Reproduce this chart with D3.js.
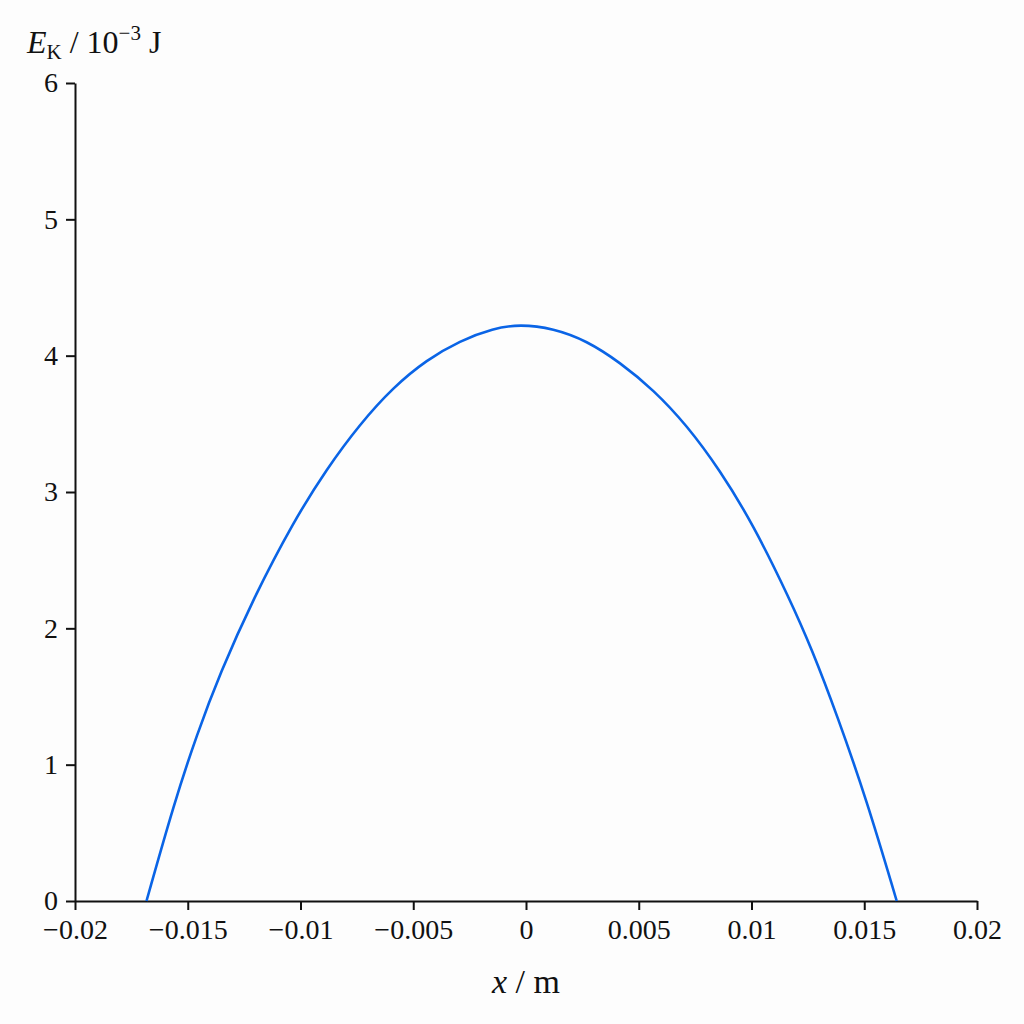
<!DOCTYPE html>
<html>
<head>
<meta charset="utf-8">
<script src="https://cdn.jsdelivr.net/npm/d3@7"></script>
<style>
  body { margin: 0; background: #fdfdfd; }
  svg { display: block; }
  .axis text { font-family: "Liberation Serif", "DejaVu Serif", serif; font-size: 28px; fill: #111; }
  .axis path, .axis line { stroke: #111; stroke-width: 2; }
  .label { font-family: "Liberation Serif", "DejaVu Serif", serif; fill: #111; }
</style>
</head>
<body>
<svg id="chart" width="1024" height="1024"></svg>
<script>
// position x in metres
const posX = [-0.01683, -0.0156, -0.0146, -0.01357, -0.01209, -0.01032, -0.00884,
  -0.00736, -0.00588, -0.0044, -0.00293, -0.00145, -0.00027, 0.00121, 0.00269, 0.00417,
  0.00565, 0.00713, 0.0086, 0.01008, 0.01168, 0.01267, 0.01378, 0.01511, 0.01644];
// kinetic energy in 10^-3 J
const energyK = [0, 0.72, 1.22, 1.67, 2.22, 2.78, 3.17,
  3.50, 3.77, 3.97, 4.11, 4.20, 4.23, 4.20, 4.11, 3.95,
  3.75, 3.49, 3.16, 2.76, 2.22, 1.85, 1.37, 0.74, 0];

const xTicks = [-0.02, -0.015, -0.01, -0.005, 0, 0.005, 0.01, 0.015, 0.02];
const yTicks = [0, 1, 2, 3, 4, 5, 6];

const svg = d3.select("#chart");
const margin = { top: 83, right: 47, bottom: 123, left: 75 };
const width = +svg.attr("width") - margin.left - margin.right,
      height = +svg.attr("height") - margin.top - margin.bottom;

const g = svg.append("g")
  .attr("transform", `translate(${margin.left},${margin.top})`);

const x = d3.scaleLinear().domain([-0.02, 0.02]).range([0, width]);
const y = d3.scaleLinear().domain([0, 6]).range([height, 0]);

const fmt = d => d < 0 ? "\u2212" + Math.abs(d) : String(d);

g.append("g")
  .attr("class", "axis")
  .attr("transform", `translate(0,${height})`)
  .call(d3.axisBottom(x).tickValues(xTicks).tickFormat(fmt).tickSize(9).tickSizeOuter(0).tickPadding(9));

g.append("g")
  .attr("class", "axis")
  .call(d3.axisLeft(y).tickValues(yTicks).tickFormat(d3.format("d")).tickSize(9).tickSizeOuter(0).tickPadding(8));

const pts = posX.map((v, i) => ({ x: v, e: energyK[i] }));

// smooth B-spline through the read-off points
g.append("path")
  .datum(pts)
  .attr("fill", "none")
  .attr("stroke", "#0a64e6")
  .attr("stroke-width", 2.6)
  .attr("d", d3.line().x(d => x(d.x)).y(d => y(d.e)).curve(d3.curveBasis));

// x axis label
const xl = svg.append("text")
  .attr("class", "label")
  .attr("x", margin.left + x(0))
  .attr("y", 993)
  .attr("text-anchor", "middle")
  .attr("font-size", "34px");
xl.append("tspan").attr("font-style", "italic").text("x");
xl.append("tspan").text(" / m");

// y axis label
const yl = svg.append("text")
  .attr("class", "label")
  .attr("x", 27)
  .attr("y", 53)
  .attr("font-size", "32px");
yl.append("tspan").attr("font-style", "italic").text("E");
yl.append("tspan").attr("font-size", "21px").attr("dy", 6).text("K");
yl.append("tspan").attr("dy", -6).text(" / 10");
yl.append("tspan").attr("font-size", "21px").attr("dy", -13).text("\u22123");
yl.append("tspan").attr("dy", 13).text(" J");
</script>
</body>
</html>
